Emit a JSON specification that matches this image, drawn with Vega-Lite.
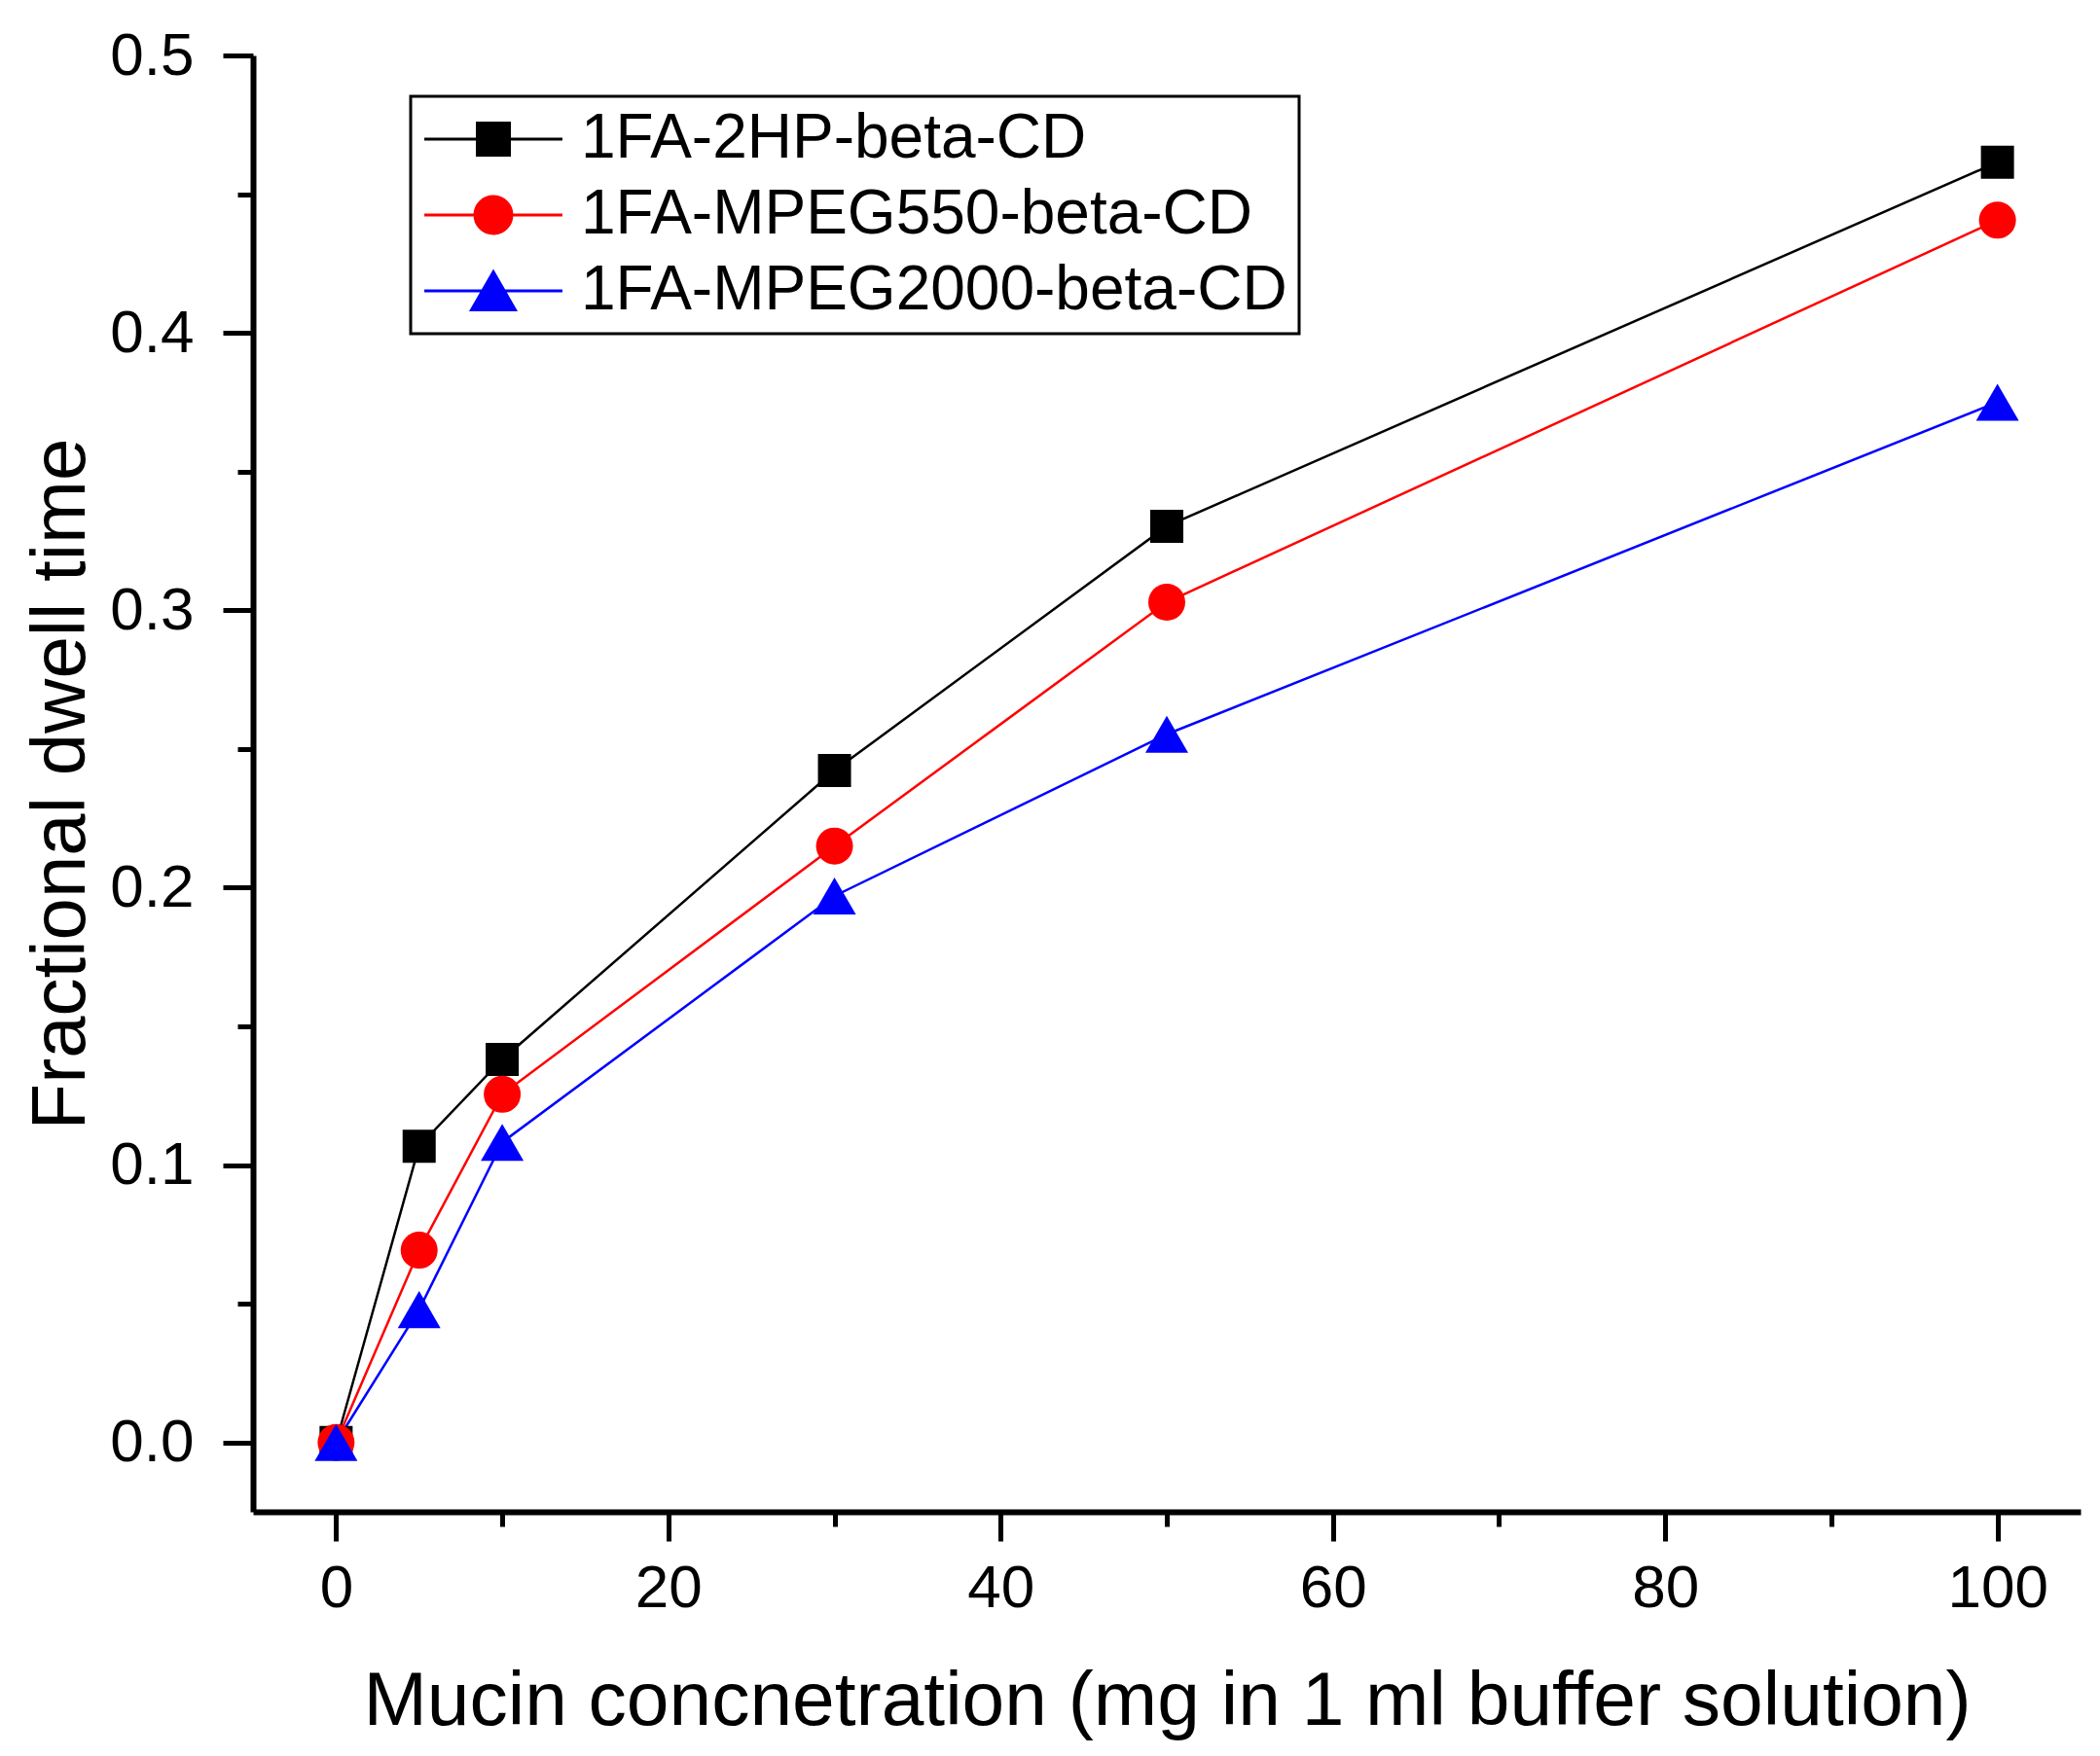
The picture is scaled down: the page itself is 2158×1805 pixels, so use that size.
{
  "$schema": "https://vega.github.io/schema/vega-lite/v6.json",
  "width": 1878,
  "height": 1497,
  "autosize": {"type": "none"},
  "padding": {"left": 260, "top": 57, "right": 20, "bottom": 251},
  "background": "white",
  "config": {
    "view": {"stroke": null},
    "font": "Liberation Sans",
    "legend": {"strokeWidth": 3},
    "axis": {
      "grid": false,
      "domainColor": "black",
      "tickColor": "black",
      "labelColor": "black",
      "titleColor": "black",
      "labelFont": "Liberation Sans",
      "titleFont": "Liberation Sans",
      "titleFontWeight": "normal"
    }
  },
  "data": {
    "values": [
      {"series": "1FA-2HP-beta-CD", "x": 0, "y": 0},
      {"series": "1FA-2HP-beta-CD", "x": 5, "y": 0.1068},
      {"series": "1FA-2HP-beta-CD", "x": 10, "y": 0.1381},
      {"series": "1FA-2HP-beta-CD", "x": 30, "y": 0.2422},
      {"series": "1FA-2HP-beta-CD", "x": 50, "y": 0.3303},
      {"series": "1FA-2HP-beta-CD", "x": 100, "y": 0.4615},
      {"series": "1FA-MPEG550-beta-CD", "x": 0, "y": 0},
      {"series": "1FA-MPEG550-beta-CD", "x": 5, "y": 0.0693},
      {"series": "1FA-MPEG550-beta-CD", "x": 10, "y": 0.1255},
      {"series": "1FA-MPEG550-beta-CD", "x": 30, "y": 0.215},
      {"series": "1FA-MPEG550-beta-CD", "x": 50, "y": 0.3029},
      {"series": "1FA-MPEG550-beta-CD", "x": 100, "y": 0.4406},
      {"series": "1FA-MPEG2000-beta-CD", "x": 0, "y": 0},
      {"series": "1FA-MPEG2000-beta-CD", "x": 5, "y": 0.0479},
      {"series": "1FA-MPEG2000-beta-CD", "x": 10, "y": 0.1082},
      {"series": "1FA-MPEG2000-beta-CD", "x": 30, "y": 0.197},
      {"series": "1FA-MPEG2000-beta-CD", "x": 50, "y": 0.2553},
      {"series": "1FA-MPEG2000-beta-CD", "x": 100, "y": 0.375}
    ]
  },
  "resolve": {
    "scale": {"color": "independent", "shape": "independent", "size": "independent", "stroke": "independent"}
  },
  "layer": [
    {
      "mark": {"type": "line", "strokeWidth": 2.5},
      "encoding": {
        "x": {
          "field": "x", "type": "quantitative",
          "scale": {"domain": [-5, 105], "nice": false, "zero": false},
          "axis": {
            "values": [0, 10, 20, 30, 40, 50, 60, 70, 80, 90, 100],
            "labelExpr": "datum.value % 20 === 0 ? datum.label : ''",
            "tickSize": {"condition": {"test": "datum.value % 20 === 0", "value": 30}, "value": 15},
            "tickWidth": 5,
            "domainWidth": 6,
            "labelFontSize": 62,
            "labelPadding": 18,
            "labelOverlap": false,
            "labelFlush": false,
            "title": "Mucin concnetration (mg in 1 ml buffer solution)",
            "titleFontSize": 78.5,
            "titlePadding": 47
          }
        },
        "y": {
          "field": "y", "type": "quantitative",
          "scale": {"domain": [-0.025, 0.5], "nice": false, "zero": false},
          "axis": {
            "values": [0, 0.05, 0.1, 0.15, 0.2, 0.25, 0.3, 0.35, 0.4, 0.45, 0.5],
            "format": ".1f",
            "labelExpr": "round(datum.value * 20) % 2 === 0 ? datum.label : ''",
            "tickSize": {"condition": {"test": "round(datum.value * 20) % 2 === 0", "value": 31}, "value": 16},
            "tickWidth": 5,
            "domainWidth": 6,
            "labelFontSize": 62,
            "labelPadding": 30,
            "labelOverlap": false,
            "labelFlush": false,
            "title": "Fractional dwell time",
            "titleFontSize": 78,
            "titlePadding": 10
          }
        },
        "color": {
          "field": "series", "type": "nominal",
          "scale": {"domain": ["1FA-2HP-beta-CD", "1FA-MPEG550-beta-CD", "1FA-MPEG2000-beta-CD"], "range": ["#000000", "#ff0000", "#0000ff"]},
          "legend": null
        }
      }
    },
    {
      "mark": {"type": "point", "filled": true, "opacity": 1},
      "encoding": {
        "x": {"field": "x", "type": "quantitative"},
        "y": {"field": "y", "type": "quantitative"},
        "color": {
          "field": "series", "type": "nominal",
          "scale": {"domain": ["1FA-2HP-beta-CD", "1FA-MPEG550-beta-CD", "1FA-MPEG2000-beta-CD"], "range": ["#000000", "#ff0000", "#0000ff"]},
          "legend": null
        },
        "shape": {
          "field": "series", "type": "nominal",
          "scale": {"domain": ["1FA-2HP-beta-CD", "1FA-MPEG550-beta-CD", "1FA-MPEG2000-beta-CD"], "range": ["square", "circle", "triangle-up"]},
          "legend": null
        },
        "size": {
          "field": "series", "type": "nominal",
          "scale": {"type": "ordinal", "domain": ["1FA-2HP-beta-CD", "1FA-MPEG550-beta-CD", "1FA-MPEG2000-beta-CD"], "range": [1156, 1444, 1936]},
          "legend": null
        }
      }
    },
    {
      "transform": [{"filter": "datum.x < -1"}],
      "mark": {"type": "point", "filled": true, "opacity": 1, "strokeWidth": 3},
      "encoding": {
        "x": {"field": "x", "type": "quantitative"},
        "y": {"field": "y", "type": "quantitative"},
        "color": {
          "field": "series", "type": "nominal",
          "scale": {"domain": ["1FA-2HP-beta-CD", "1FA-MPEG550-beta-CD", "1FA-MPEG2000-beta-CD"], "range": ["#000000", "#ff0000", "#0000ff"]},
          "legend": {
            "orient": "none", "legendX": 162, "legendY": 42, "title": null,
            "padding": 12, "strokeColor": "black", "fillColor": "white",
            "rowPadding": 14, "symbolOffset": 41, "labelOffset": 58,
            "symbolSize": 1089, "symbolStrokeWidth": 3,
            "labelFont": "Liberation Sans", "labelFontSize": 64, "labelColor": "black", "labelLimit": 2000
          }
        },
        "stroke": {
          "field": "series", "type": "nominal",
          "scale": {"domain": ["1FA-2HP-beta-CD", "1FA-MPEG550-beta-CD", "1FA-MPEG2000-beta-CD"], "range": ["#000000", "#ff0000", "#0000ff"]},
          "legend": {
            "orient": "none", "legendX": 162, "legendY": 42, "title": null,
            "padding": 12, "strokeColor": "black", "fillColor": "white",
            "rowPadding": 14, "symbolOffset": 41, "labelOffset": 58,
            "symbolSize": 1089, "symbolStrokeWidth": 3,
            "labelFont": "Liberation Sans", "labelFontSize": 64, "labelColor": "black", "labelLimit": 2000
          }
        },
        "shape": {
          "field": "series", "type": "nominal",
          "scale": {
            "domain": ["1FA-2HP-beta-CD", "1FA-MPEG550-beta-CD", "1FA-MPEG2000-beta-CD"],
            "range": [
              "M-4.3,0H4.3M-1,-1H1V1H-1Z",
              "M-4.3,0H4.3M-1.15,0A1.15,1.15,0,1,0,1.15,0A1.15,1.15,0,1,0,-1.15,0Z",
              "M-4.3,0H4.3M0,-1.18L1.36,1.18L-1.36,1.18Z"
            ]
          },
          "legend": {
            "orient": "none", "legendX": 162, "legendY": 42, "title": null,
            "padding": 12, "strokeColor": "black", "fillColor": "white",
            "rowPadding": 14, "symbolOffset": 41, "labelOffset": 58,
            "symbolSize": 1089, "symbolStrokeWidth": 3,
            "labelFont": "Liberation Sans", "labelFontSize": 64, "labelColor": "black", "labelLimit": 2000
          }
        }
      }
    }
  ]
}
